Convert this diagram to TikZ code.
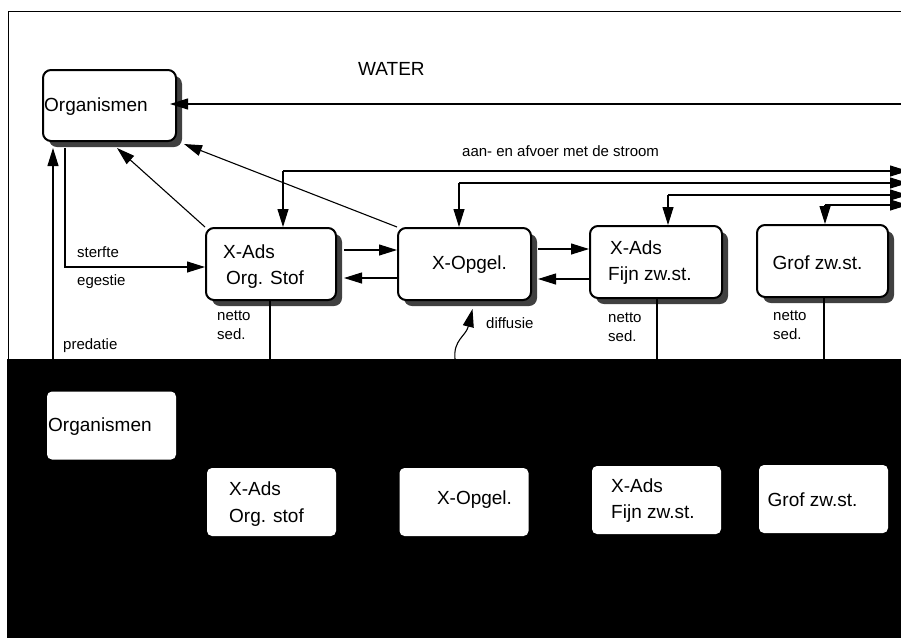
\documentclass[tikz,border=0pt]{standalone}
\usepackage{fontspec}
\setmainfont{Liberation Sans}
\usetikzlibrary{arrows.meta,shadows}
\begin{document}
\begin{tikzpicture}[x=1pt,y=-1pt,
  wbox/.style={draw=black,line width=2pt,rounded corners=8pt,fill=white,minimum height=72pt,inner sep=0pt,
    drop shadow={shadow xshift=6pt,shadow yshift=-6pt,fill=black!75,opacity=1}},
  sbox/.style={fill=white,rounded corners=5pt,minimum width=129pt,minimum height=68pt,inner sep=0pt},
  big/.style={font=\fontsize{19}{22}\selectfont,inner sep=0pt},
  small/.style={font=\fontsize{15}{17}\selectfont,inner sep=0pt},
  ln/.style={line width=1.1pt},
  arr/.style={line width=1.1pt,-{Triangle[length=18pt,width=11pt]}}]
\useasboundingbox (0,0) rectangle (901,638);
% frame and sediment layer
\draw[line width=1pt] (8,359) -- (8,11) -- (901,11);
\fill[black] (7,359) rectangle (901,638);

% water compartment boxes
\node[wbox,minimum width=133pt,minimum height=71pt] (orgW) at (109.5,105.5) {};
\node[big,anchor=west] (torgW) at (44,107) {Organismen};
\node[wbox,minimum width=130pt] (xadsW) at (271,264) {};
\node[big,anchor=west] (txadsW1) at (223,252) {X-Ads};
\node[big,anchor=west] (txadsW2) at (226,280) {Org. Stof};
\node[wbox,minimum width=133pt] (opgW) at (464.5,264) {};
\node[big] (topgW) at (469.5,265) {X-Opgel.};
\node[wbox,minimum width=132pt] (fijnW) at (656,262) {};
\node[big,anchor=west] (tfijnW1) at (610,248) {X-Ads};
\node[big,anchor=west] (tfijnW2) at (608,276) {Fijn zw.st.};
\node[wbox,minimum width=131pt] (grofW) at (822.5,261) {};
\node[big] (tgrofW) at (817.5,263) {Grof zw.st.};

% sediment compartment boxes
\node[sbox] (orgS) at (111.5,425.5) {};
\node[big,anchor=west] (torgS) at (48,427) {Organismen};
\node[sbox] (xadsS) at (271.5,502) {};
\node[big,anchor=west] (txadsS1) at (229,489) {X-Ads};
\node[big,anchor=west] (txadsS2) at (229,518) {Org. stof};
\node[sbox] (opgS) at (464,502) {};
\node[big] (topgS) at (474.5,500) {X-Opgel.};
\node[sbox] (fijnS) at (656.5,500) {};
\node[big,anchor=west] (tfijnS1) at (611,486) {X-Ads};
\node[big,anchor=west] (tfijnS2) at (611,514) {Fijn zw.st.};
\node[sbox] (grofS) at (823.5,499) {};
\node[big] (tgrofS) at (812.5,500) {Grof zw.st.};

% labels
\node[big,anchor=west] (lwater) at (358,69) {WATER};
\node[small,anchor=west] (laan) at (462,151) {aan- en afvoer met de stroom};
\node[small,anchor=west] (lsterfte) at (77,252) {sterfte};
\node[small,anchor=west] (legestie) at (77,282) {egestie};
\node[small,anchor=west] (lpredatie) at (63,346) {predatie};
\node[small,anchor=west] (ln1a) at (217,316) {netto};
\node[small,anchor=west] (ln1b) at (217,334) {sed.};
\node[small,anchor=west] (ln2a) at (608,318) {netto};
\node[small,anchor=west] (ln2b) at (608,336) {sed.};
\node[small,anchor=west] (ln3a) at (773,316) {netto};
\node[small,anchor=west] (ln3b) at (773,334) {sed.};
\node[small,anchor=west] (ldiff) at (486,323) {diffusie};

% connectors
\coordinate (rIn) at (901,104);
\draw[arr,shorten >=-7pt] (rIn) -- (rIn -| orgW.east);
\draw[arr] (opgW.north west) -- ([shift={(7,2)}]orgW.south east);
\draw[arr] (xadsW.north west) -- ([shift={(7.5,6)}]orgW.south);
\draw[arr] ([shift={(-44.5,6)}]orgW.south) |- ([shift={(0,3)}]xadsW.west);
\draw[arr] ([shift={(-58.5,0)}]orgS.north) -- ([shift={(-56.5,6)}]orgW.south);

\draw[arr] ([shift={(7,-14)}]xadsW.east) -- ([shift={(0,-14)}]opgW.west);
\draw[arr] ([shift={(0,14)}]opgW.west) -- ([shift={(7,14)}]xadsW.east);
\draw[arr] ([shift={(6,-15)}]opgW.east) -- ([shift={(0,-13)}]fijnW.west);
\draw[arr] ([shift={(0,17)}]fijnW.west) -- ([shift={(6,15)}]opgW.east);

% flow with the current
\coordinate (c1) at (283,171); \coordinate (e1) at (908,171);
\coordinate (c2) at (459,183); \coordinate (e2) at (908,183);
\coordinate (c3) at (668,195); \coordinate (e3) at (908,195);
\coordinate (c4) at (825,205); \coordinate (e4) at (908,205);
\draw[arr] (c1) -- (c1 |- xadsW.north);
\draw[arr] (c1) -- (e1);
\draw[arr] (c2) -- (c2 |- opgW.north);
\draw[arr] (c2) -- (e2);
\draw[arr] (c3) -- (c3 |- fijnW.north);
\draw[arr] (c3) -- (e3);
\draw[arr] (c4) -- (c4 |- grofW.north);
\draw[arr] (c4) -- (e4);

% net sedimentation
\draw[ln] ([shift={(-1,0)}]xadsW.south) -- ([shift={(-1.5,0)}]xadsS.north);
\draw[ln] ([shift={(1,0)}]fijnW.south) -- ([shift={(0.5,0)}]fijnS.north);
\draw[ln] ([shift={(1.5,0)}]grofW.south) -- ([shift={(0.5,0)}]grofS.north);

% diffusion
\draw[arr] ([shift={(-9,0)}]opgS.north) -- (455,359) .. controls (453,340) and (466,336) .. ([shift={(8,8)}]opgW.south);
\end{tikzpicture}
\end{document}
